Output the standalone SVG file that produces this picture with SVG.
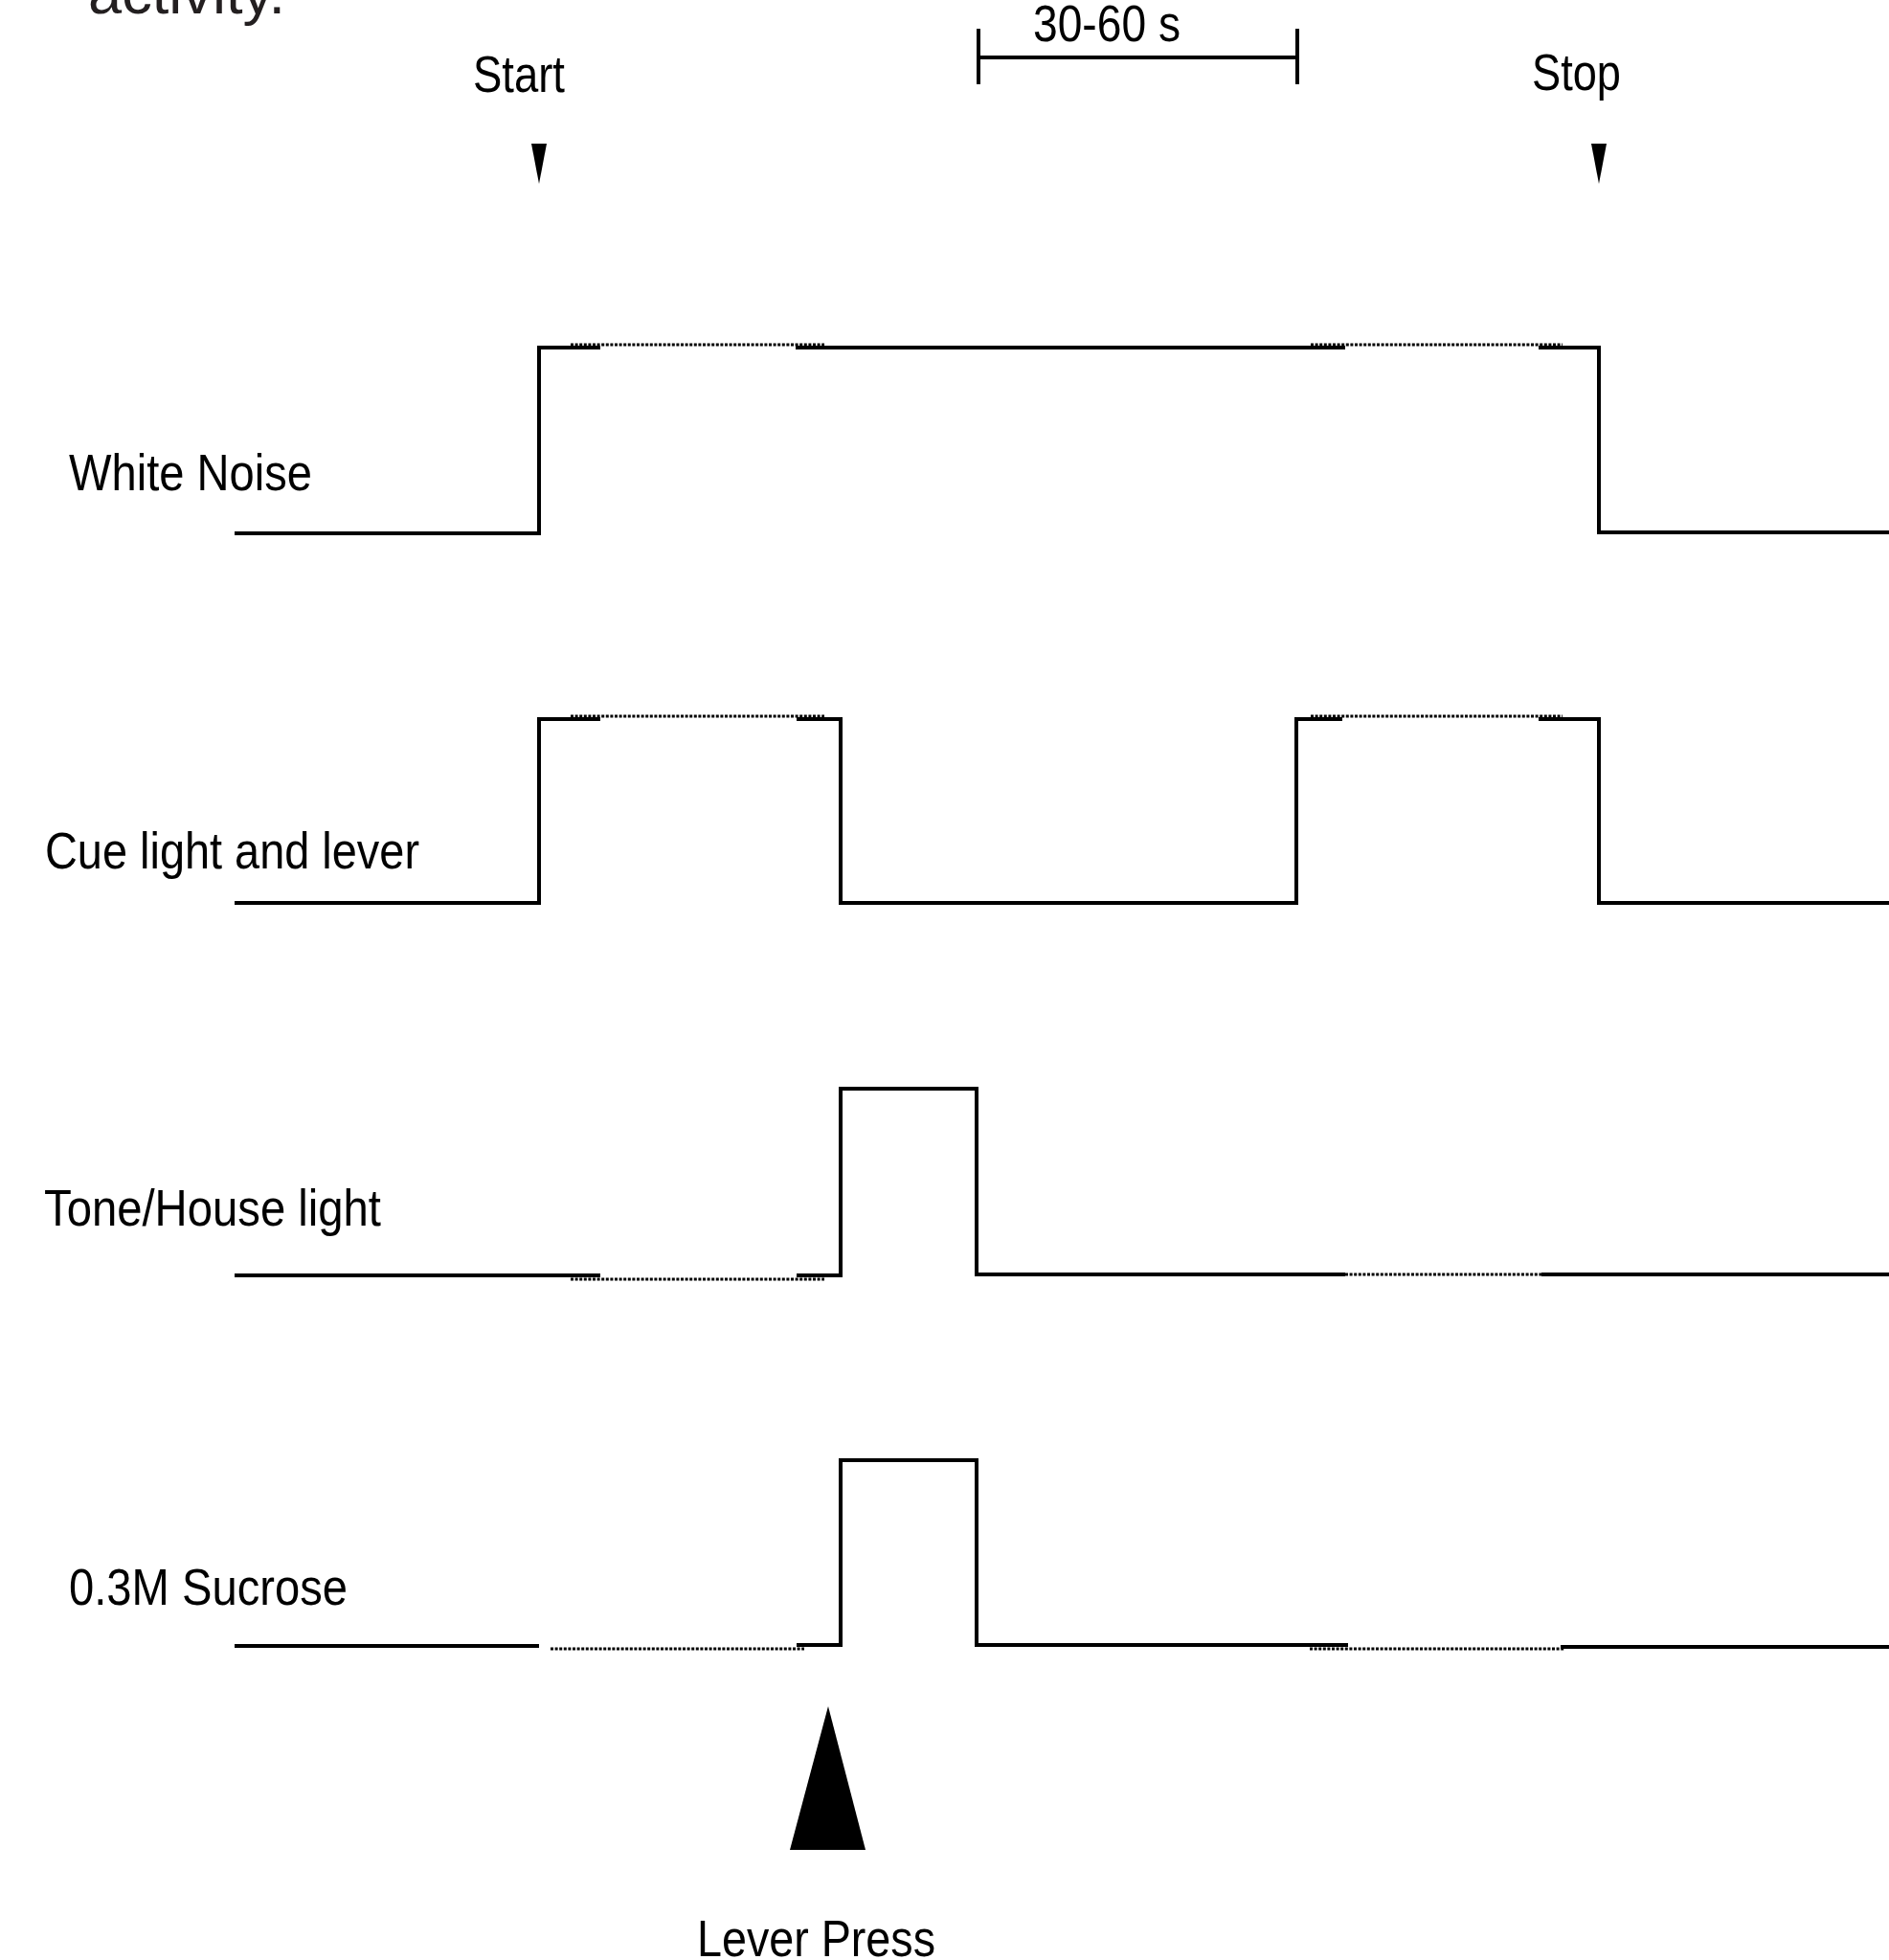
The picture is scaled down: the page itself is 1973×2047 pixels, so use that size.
<svg xmlns="http://www.w3.org/2000/svg" width="1973" height="2047" viewBox="0 0 1973 2047">
<style>
.sig{fill:none;stroke:#000;stroke-width:4;stroke-linejoin:miter;stroke-linecap:butt}
.dot{fill:none;stroke:#000;stroke-width:3;stroke-dasharray:3 1.6}
.lbl{font-family:"Liberation Sans",Arial,sans-serif;font-size:53px;fill:#000}
</style>
<rect width="1973" height="2047" fill="#fff"/>
<text x="92" y="14" font-family="Liberation Sans, Arial, sans-serif" font-size="61" fill="#231f20" textLength="206" lengthAdjust="spacingAndGlyphs">activity.</text>

<g id="start-marker">
<text class="lbl" x="494" y="96" textLength="96" lengthAdjust="spacingAndGlyphs">Start</text>
<polygon points="555,150 571,150 563,192" fill="#000"/>
</g>
<g id="stop-marker">
<text class="lbl" x="1600" y="94" textLength="93" lengthAdjust="spacingAndGlyphs">Stop</text>
<polygon points="1662,150 1678,150 1670,192" fill="#000"/>
</g>
<g id="scale-bar">
<text class="lbl" x="1079" y="43" textLength="154" lengthAdjust="spacingAndGlyphs">30-60 s</text>
<path class="sig" d="M1022,30 V88 M1355,30 V88 M1022,60 H1355"/>
</g>

<g id="white-noise">
<text class="lbl" x="72" y="512" textLength="254" lengthAdjust="spacingAndGlyphs">White Noise</text>
<path class="sig" d="M245,557 H563 V363 H627"/>
<path class="sig" d="M831,363 H1405"/>
<path class="sig" d="M1607,363 H1670 V556 H1973"/>
<path class="dot" d="M596,360 H861 M1369,360 H1632"/>
</g>

<g id="cue-light">
<text class="lbl" x="47" y="907" textLength="391" lengthAdjust="spacingAndGlyphs">Cue light and lever</text>
<path class="sig" d="M245,943 H563 V751 H627"/>
<path class="sig" d="M832,751 H878 V943 H1354 V751 H1402"/>
<path class="sig" d="M1607,751 H1670 V943 H1973"/>
<path class="dot" d="M596,748 H861 M1369,748 H1632"/>
</g>

<g id="tone-house-light">
<text class="lbl" x="46" y="1280" textLength="352" lengthAdjust="spacingAndGlyphs">Tone/House light</text>
<path class="sig" d="M245,1332 H627"/>
<path class="sig" d="M832,1332 H878 V1137 H1020 V1331 H1405"/>
<path class="sig" d="M1610,1331 H1973"/>
<path class="dot" d="M596,1336 H861 M1405,1331 H1612"/>
</g>

<g id="sucrose">
<text class="lbl" x="72" y="1676" textLength="291" lengthAdjust="spacingAndGlyphs">0.3M Sucrose</text>
<path class="sig" d="M245,1719 H563"/>
<path class="sig" d="M832,1718 H878 V1525 H1020 V1718 H1408"/>
<path class="sig" d="M1630,1720 H1973"/>
<path class="dot" d="M575,1722 H840 M1368,1722 H1634"/>
</g>

<g id="lever-press">
<polygon points="865,1782 904,1932 825,1932" fill="#000"/>
<text class="lbl" x="728" y="2043" textLength="249" lengthAdjust="spacingAndGlyphs">Lever Press</text>
</g>
<g id="connectors"></g>
</svg>
